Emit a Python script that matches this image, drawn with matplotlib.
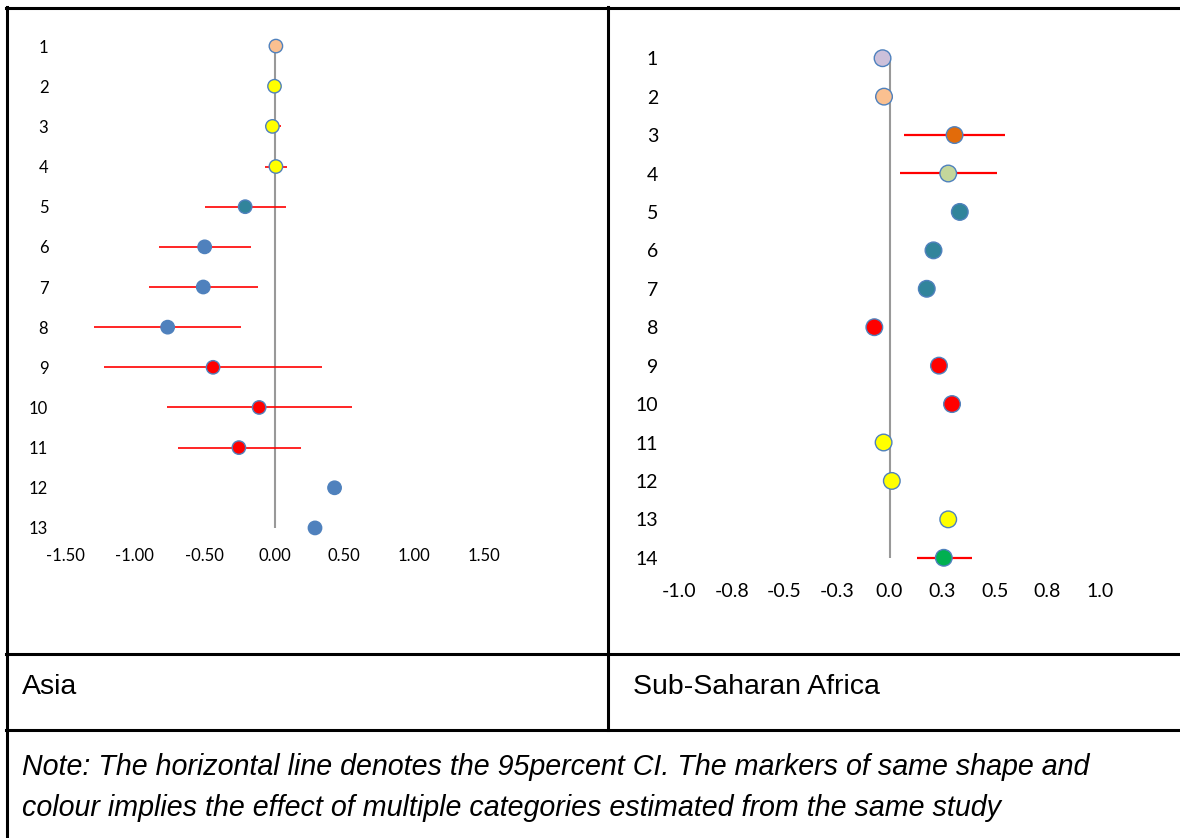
import matplotlib
matplotlib.use('Agg')
import matplotlib.pyplot as plt
import numpy as np
from matplotlib.lines import Line2D

# Asia panel
asia_rows = list(range(1, 14))
asia_est = [0.01, 0.00, -0.015, 0.01, -0.21, -0.50, -0.51, -0.765, -0.44, -0.11, -0.255, 0.43, 0.29]
asia_lo = [np.nan, np.nan, -0.07, -0.07, -0.50, -0.83, -0.90, -1.29, -1.22, -0.77, -0.69, np.nan, np.nan]
asia_hi = [np.nan, np.nan, 0.05, 0.09, 0.085, -0.165, -0.12, -0.24, 0.34, 0.555, 0.19, np.nan, np.nan]
asia_col = ['#FAC090', '#FFFF00', '#FFFF00', '#FFFF00', '#31849B', '#4F81BD', '#4F81BD',
            '#4F81BD', '#FF0000', '#FF0000', '#FF0000', '#4F81BD', '#4F81BD']
asia_ticks = [-1.5, -1.0, -0.5, 0.0, 0.5, 1.0, 1.5]
asia_ticklabels = ['-1.50', '-1.00', '-0.50', '0.00', '0.50', '1.00', '1.50']

# Sub-Saharan Africa panel
ssa_rows = list(range(1, 15))
ssa_est = [-0.033, -0.026, 0.309, 0.279, 0.334, 0.209, 0.177, -0.072, 0.235, 0.297, -0.028, 0.011, 0.279, 0.258]
ssa_lo = [np.nan, -0.067, 0.068, 0.049, np.nan, np.nan, np.nan, np.nan, np.nan, np.nan, np.nan, np.nan, np.nan, 0.132]
ssa_hi = [np.nan, 0.018, 0.551, 0.513, np.nan, np.nan, np.nan, np.nan, np.nan, np.nan, np.nan, np.nan, np.nan, 0.390]
ssa_col = ['#CCC0DA', '#FAC090', '#E26B0A', '#C4D79B', '#31849B', '#31849B', '#31849B',
           '#FF0000', '#FF0000', '#FF0000', '#FFFF00', '#FFFF00', '#FFFF00', '#00B050']
ssa_ticks = [-1.0, -0.75, -0.5, -0.25, 0.0, 0.25, 0.5, 0.75, 1.0]
ssa_ticklabels = ['-1.0', '-0.8', '-0.5', '-0.3', '0.0', '0.3', '0.5', '0.8', '1.0']

W, H = 1180, 838
fig = plt.figure(figsize=(W / 100, H / 100), dpi=100)


def px_axes(x0, y0, x1, y1):
    return fig.add_axes([x0 / W, 1 - y1 / H, (x1 - x0) / W, (y1 - y0) / H])


def forest(ax, rows, est, lo, hi, col, ticks, ticklabels, xlim, ms, lw, fs, ypad, xpad):
    ax.vlines(0, rows[0], rows[-1], color='#999999', lw=1.5, zorder=1)
    ax.hlines(rows, lo, hi, color='#FF0000', lw=lw, zorder=2)
    ax.scatter(est, rows, s=ms ** 2, c=col, edgecolors='#4F81BD', linewidths=1.0,
               zorder=3, clip_on=False)
    ax.set_xlim(*xlim)
    ax.set_ylim(rows[-1] + 0.5, rows[0] - 0.5)
    ax.set_xticks(ticks)
    ax.set_xticklabels(ticklabels)
    ax.set_yticks(rows)
    ax.set_yticklabels([str(r) for r in rows])
    for s in ax.spines.values():
        s.set_visible(False)
    ax.tick_params(axis='both', length=0, labelsize=fs, colors='black')
    ax.tick_params(axis='y', pad=ypad)
    ax.tick_params(axis='x', pad=xpad)
    for lab in ax.get_xticklabels() + ax.get_yticklabels():
        lab.set_fontfamily('Lato')
    ax.patch.set_alpha(0)


ax1 = px_axes(65, 26, 484, 548)
forest(ax1, asia_rows, asia_est, asia_lo, asia_hi, asia_col, asia_ticks, asia_ticklabels,
       (-1.5, 1.5), 13.4 * 0.72, 1.2, 12, 12, 0)

ax2 = px_axes(679, 39, 1100, 577)
forest(ax2, ssa_rows, ssa_est, ssa_lo, ssa_hi, ssa_col, ssa_ticks, ssa_ticklabels,
       (-1.0, 1.0), 16.6 * 0.72, 1.6, 14, 15, 4)

# table grid
def hline(y, x0, x1):
    fig.add_artist(Line2D([x0 / W, x1 / W], [1 - y / H, 1 - y / H], color='black', lw=2.2))


def vline(x, y0, y1):
    fig.add_artist(Line2D([x / W, x / W], [1 - y0 / H, 1 - y1 / H], color='black', lw=2.2))


hline(8, 6, W)
hline(654, 6, W)
hline(730, 6, W)
vline(7, 7, H)
vline(608, 7, 730)

fig.text(22 / W, 1 - 687 / H, 'Asia', fontsize=20.5, family='Liberation Sans', va='center')
fig.text(633 / W, 1 - 687 / H, 'Sub-Saharan Africa', fontsize=20.5, family='Liberation Sans', va='center')
fig.text(22 / W, 1 - 767 / H,
         'Note: The horizontal line denotes the 95percent CI. The markers of same shape and',
         fontsize=20.6, family='Liberation Sans', style='italic', va='center')
fig.text(22 / W, 1 - 808 / H,
         'colour implies the effect of multiple categories estimated from the same study',
         fontsize=20.6, family='Liberation Sans', style='italic', va='center')

fig.savefig('out.png', dpi=100)
